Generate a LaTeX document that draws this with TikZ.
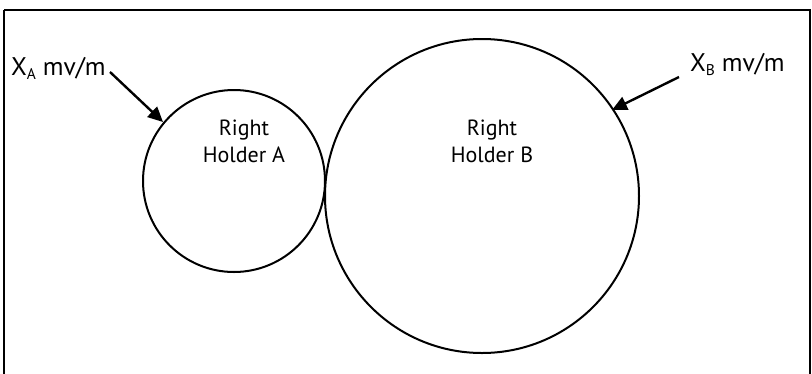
\documentclass[tikz,border=0pt]{standalone}
\usepackage{fontspec}
\setmainfont{PT Sans}
\usetikzlibrary{arrows.meta}
\newcommand{\lowsub}[1]{{\fontsize{15.5}{16}\selectfont\raisebox{-4.5pt}{#1}}}
\begin{document}
\begin{tikzpicture}[x=1pt,y=-1pt,
  ring/.style={draw,line width=2pt},
  frame/.style={draw,line width=1.8pt},
  lbl/.style={font=\fontsize{22}{27}\selectfont,align=center,inner sep=0pt,anchor=base},
  xlbl/.style={font=\fontsize{25.5}{28}\selectfont,inner sep=0pt,anchor=base west},
  pointer/.style={line width=2.4pt,-{Triangle[length=15pt,width=14pt]}}]
\useasboundingbox (0,0) rectangle (812,373);
\begin{scope}
\clip (0,0) rectangle (812,373);
\draw[frame] (4,10) -- (810,10) -- (810,390) (4,10) -- (4,390);
\end{scope}
\node[ring,circle,minimum size=182pt,inner sep=0pt] (A) at (234,181) {};
\node[ring,circle,minimum size=314pt,inner sep=0pt] (B) at (482,196) {};
\node[lbl] (tA1) at (244,135) {Right};
\node[lbl] (tA2) at (244,162) {Holder A};
\node[lbl] (tB1) at (492,135) {Right};
\node[lbl] (tB2) at (492,162) {Holder B};
\node[xlbl] (xA) at (11,75) {X\lowsub{A} mv/m};
\node[xlbl] (xB) at (690,71) {X\lowsub{B} mv/m};
\coordinate (sA) at (110,72);
\coordinate (eA) at (163,122);
\coordinate (sB) at (679,77);
\coordinate (eB) at (612,110);
\draw[pointer] (sA) -- (eA);
\draw[pointer] (sB) -- (eB);
\end{tikzpicture}
\end{document}
